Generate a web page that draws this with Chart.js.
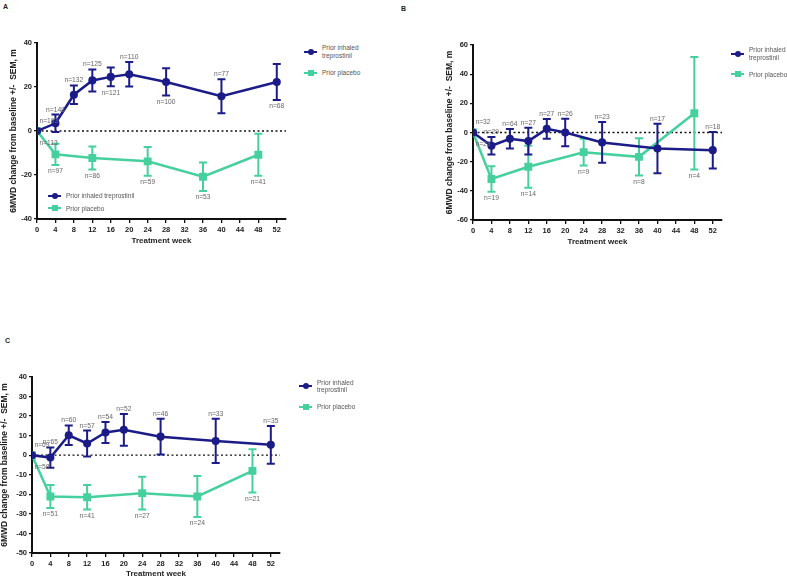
<!DOCTYPE html>
<html>
<head>
<meta charset="utf-8">
<script src="https://cdn.jsdelivr.net/npm/chart.js@4.4.0/dist/chart.umd.min.js"></script>
<style>
body { margin:0; width:787px; height:580px; overflow:hidden; background:#fff; position:relative;
  font-family:"Liberation Sans", Arial, sans-serif; }
canvas { position:absolute; }
.letter { position:absolute; font-size:7px; font-weight:bold; color:#222; }
.legend { position:absolute; width:120px; font-size:6.5px; line-height:7.5px; color:#555; }
.legend .row { display:flex; align-items:center; white-space:nowrap; }
.legend .txt { white-space:normal; }
.mk { position:relative; display:inline-block; width:13px; height:7px; flex:none; }
.mk::before { content:''; position:absolute; left:0; right:0; top:2.5px; height:2px; background:currentColor; }
.mk::after { content:''; position:absolute; left:3.5px; top:0.5px; width:6px; height:6px; background:currentColor; border-radius:50%; }
.mk.sq::after { border-radius:0; }
</style>
</head>
<body>
<div class="letter" style="left:3px;top:3px">A</div>
<div class="letter" style="left:401px;top:5px">B</div>
<div class="letter" style="left:5px;top:337px">C</div>
<canvas id="chartA" width="300" height="225" style="left:0;top:28px"></canvas>
<canvas id="chartB" width="300" height="225" style="left:436px;top:30px"></canvas>
<canvas id="chartC" width="300" height="218" style="left:0;top:362px"></canvas>
<script>
// series names
var seriesNames = ['Prior inhaled treprostinil', 'Prior placebo'];
var blue = '#1c1c88';
var green = '#45d09e';

// treatment weeks
var weeksTre = [0, 4, 8, 12, 16, 20, 28, 40, 52];
var weeksPla = [0, 4, 12, 24, 36, 48];

// panel A
var aTre = [0, 3.5, 16.5, 23, 24.6, 25.8, 22.3, 15.8, 22.3];
var aTreSem = [0, 4, 4.2, 5, 4.3, 5.6, 6.2, 7.7, 8.2];
var aTreN = [163, 148, 132, 125, 121, 110, 100, 77, 68];
var aPla = [0, -10.6, -12.3, -13.8, -20.8, -10.8];
var aPlaSem = [0, 4.8, 5.2, 6.5, 6.5, 9.5];
var aPlaN = [113, 97, 86, 59, 53, 41];

// panel B
var bTre = [0, -9.1, -4.3, -5.9, 2.5, 0, -6.8, -11, -12.1];
var bTreSem = [0, 6, 6.7, 9.2, 6.8, 9.5, 14, 17, 12.5];
var bTreN = [32, 29, 64, 27, 27, 26, 23, 17, 18];
var bPla = [0, -31.9, -23.5, -13.5, -16.7, 13.2];
var bPlaSem = [0, 8.8, 14.4, 9.2, 12.7, 38.6];
var bPlaN = [23, 19, 14, 9, 8, 4];

// panel C
var cTre = [0, -1.2, 10.2, 6, 11.6, 13, 9.5, 7.3, 5.3];
var cTreSem = [0, 5.2, 5, 6.6, 5.4, 8.1, 9.1, 11.3, 9.7];
var cTreN = [69, 65, 60, 57, 54, 52, 46, 33, 35];
var cPla = [0, -21.1, -21.5, -19.4, -21.1, -8];
var cPlaSem = [0, 5.9, 6.3, 8.4, 10.5, 11.1];
var cPlaN = [58, 51, 41, 27, 24, 21];

// which side of the error bar the n= label goes
var aTreSide = ['up', 'up', 'up', 'up', 'down', 'up', 'down', 'up', 'down'];

var fam = '"Liberation Sans", Arial, sans-serif';

var errorBars = {
    id: 'errorBars',
    beforeDatasetsDraw: function(chart) {
        var ctx = chart.ctx, area = chart.chartArea;
        var y0 = chart.scales.y.getPixelForValue(0);
        ctx.save();
        ctx.setLineDash([2, 2.5]);
        ctx.lineWidth = 1.3;
        ctx.strokeStyle = '#111';
        ctx.beginPath();
        ctx.moveTo(area.left, y0);
        ctx.lineTo(area.right, y0);
        ctx.stroke();
        ctx.restore();
    },
    beforeDatasetDraw: function(chart, args) {
        var ds = chart.data.datasets[args.index];
        var ctx = chart.ctx, y = chart.scales.y;
        ctx.save();
        ctx.strokeStyle = ds.borderColor;
        ctx.lineWidth = 2;
        args.meta.data.forEach(function(pt, i) {
            var s = ds.sem[i];
            if (!s) return;
            var v = ds.data[i].y;
            var yt = y.getPixelForValue(v + s), yb = y.getPixelForValue(v - s);
            ctx.beginPath();
            ctx.moveTo(pt.x, yt); ctx.lineTo(pt.x, yb);
            ctx.moveTo(pt.x - 4, yt); ctx.lineTo(pt.x + 4, yt);
            ctx.moveTo(pt.x - 4, yb); ctx.lineTo(pt.x + 4, yb);
            ctx.stroke();
        });
        ctx.restore();
    },
    afterDatasetsDraw: function(chart) {
        var ctx = chart.ctx, y = chart.scales.y;
        ctx.save();
        ctx.font = '6.7px ' + fam;
        ctx.fillStyle = '#666';
        chart.data.datasets.forEach(function(ds, di) {
            var meta = chart.getDatasetMeta(di);
            meta.data.forEach(function(pt, i) {
                var side = ds.side[i];
                var v = ds.data[i].y, s = ds.sem[i];
                var txt = 'n=' + ds.counts[i];
                if (ds.data[i].x === 0) {
                    ctx.textAlign = 'left';
                    ctx.textBaseline = 'middle';
                    ctx.fillText(txt, pt.x + 2.5, side === 'up' ? pt.y - 10 : pt.y + 12);
                    return;
                }
                ctx.textAlign = 'center';
                if (side === 'up') {
                    ctx.textBaseline = 'alphabetic';
                    ctx.fillText(txt, pt.x, y.getPixelForValue(v + s) - 3);
                } else {
                    ctx.textBaseline = 'top';
                    ctx.fillText(txt, pt.x, y.getPixelForValue(v - s) + 3);
                }
            });
        });
        ctx.restore();
    }
};

function pts(xs, ys) {
    return xs.map(function(x, i) { return {x: x, y: ys[i]}; });
}

function fill(n, v) {
    var a = [];
    for (var i = 0; i < n; i++) a.push(v);
    return a;
}

function makeChart(id, tre, treSem, treN, treSide, pla, plaSem, plaN, yMin, yMax, yStep, box) {
    var tickFont = {family: fam, size: 7.5, weight: 'bold'};
    new Chart(document.getElementById(id), {
        type: 'line',
        data: {
            datasets: [{
                label: seriesNames[0],
                data: pts(weeksTre, tre),
                sem: treSem, counts: treN, side: treSide,
                borderColor: blue, backgroundColor: blue,
                borderWidth: 2.5, pointStyle: 'circle', pointRadius: 2.8,
                tension: 0
            }, {
                label: seriesNames[1],
                data: pts(weeksPla, pla),
                sem: plaSem, counts: plaN, side: fill(pla.length, 'down'),
                borderColor: green, backgroundColor: green,
                borderWidth: 2.5, pointStyle: 'rect', pointRadius: 3.8,
                tension: 0
            }]
        },
        options: {
            responsive: false,
            animation: false,
            layout: {padding: {top: box.top, right: box.right, left: 0, bottom: 0}},
            plugins: {legend: {display: false}, tooltip: {enabled: false}},
            scales: {
                x: {
                    type: 'linear', min: 0, max: 54,
                    afterFit: function(s) { s.height = box.xh; },
                    ticks: {stepSize: 4, includeBounds: false, padding: 2, color: '#222', font: tickFont, maxRotation: 0, autoSkip: false},
                    grid: {drawOnChartArea: false, drawTicks: true, tickLength: 4, color: '#111', lineWidth: 1.3},
                    border: {color: '#111', width: 2},
                    title: {display: true, text: 'Treatment week', color: '#222',
                        font: {family: fam, size: 8, weight: 'bold'}, padding: {top: 0, bottom: box.xtp}}
                },
                y: {
                    min: yMin, max: yMax,
                    afterFit: function(s) { s.width = box.yw; },
                    ticks: {stepSize: yStep, padding: 2, color: '#222', font: tickFont},
                    grid: {drawOnChartArea: false, drawTicks: true, tickLength: 3, color: '#111', lineWidth: 1.3},
                    border: {color: '#111', width: 2},
                    title: {display: true, text: '6MWD change from baseline +/-  SEM, m', color: '#222',
                        font: {family: fam, size: 8.5, weight: 'bold'}, padding: {top: box.ytp, bottom: 0}}
                }
            }
        },
        plugins: [errorBars]
    });
}

makeChart('chartA', aTre, aTreSem, aTreN, aTreSide, aPla, aPlaSem, aPlaN, -40, 40, 20,
    {top: 15, right: 14, xh: 34, yw: 37, xtp: 7, ytp: 9});
makeChart('chartB', bTre, bTreSem, bTreN, fill(bTre.length, 'up'), bPla, bPlaSem, bPlaN, -60, 60, 20,
    {top: 15, right: 14, xh: 35, yw: 37, xtp: 8, ytp: 9});
makeChart('chartC', cTre, cTreSem, cTreN, fill(cTre.length, 'up'), cPla, cPlaSem, cPlaN, -50, 40, 10,
    {top: 15, right: 20, xh: 27, yw: 32, xtp: 1, ytp: 0});

// html legends
function addLegend(left, top, gap, wrapWidth) {
    var box = document.createElement('div');
    box.className = 'legend';
    box.style.left = left + 'px';
    box.style.top = top + 'px';
    [blue, green].forEach(function(col, i) {
        var row = document.createElement('div');
        row.className = 'row';
        if (i > 0) row.style.marginTop = gap + 'px';
        var mk = document.createElement('span');
        mk.className = i === 0 ? 'mk' : 'mk sq';
        mk.style.color = col;
        mk.style.marginRight = '5px';
        var t = document.createElement('span');
        t.className = 'txt';
        if (wrapWidth) t.style.maxWidth = wrapWidth + 'px';
        else t.style.whiteSpace = 'nowrap';
        t.textContent = seriesNames[i];
        row.appendChild(mk);
        row.appendChild(t);
        box.appendChild(row);
    });
    document.body.appendChild(box);
}
addLegend(304, 44, 10, 45);
addLegend(48, 192, 5, 0);
addLegend(731, 46, 9.5, 45);
addLegend(299, 378.5, 9.75, 45);
</script>
</body>
</html>
